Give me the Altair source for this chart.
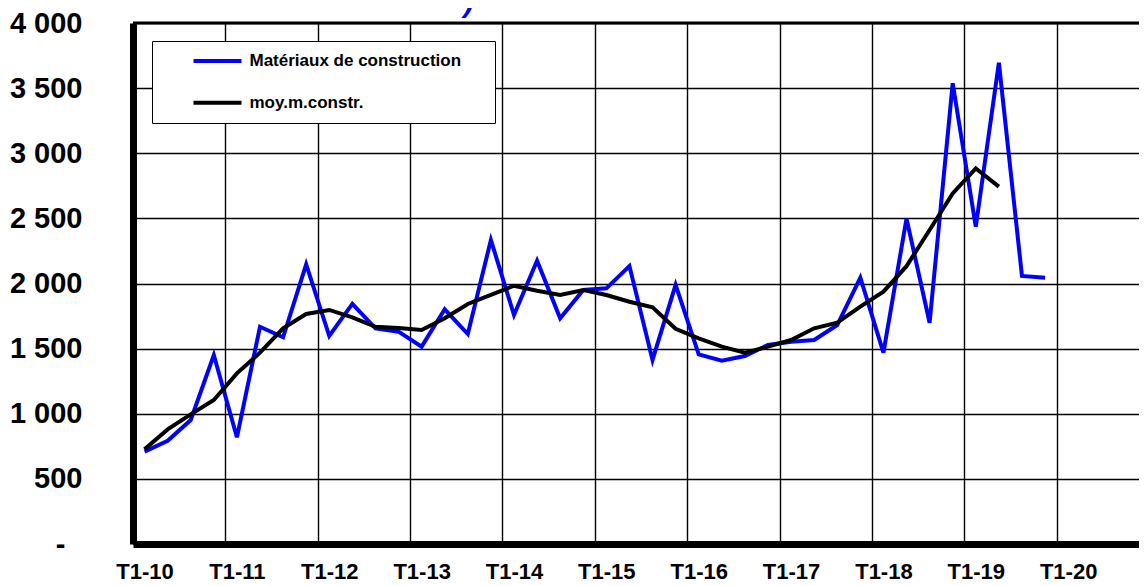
import altair as alt
import pandas as pd

# ---- data ----
series_names = ["Matériaux de construction", "moy.m.constr."]
year_labels = ["T1-10", "T1-11", "T1-12", "T1-13", "T1-14", "T1-15",
               "T1-16", "T1-17", "T1-18", "T1-19", "T1-20"]
materiaux = [709, 793, 952, 1451, 819, 1668, 1587, 2147, 1597, 1843,
             1656, 1630, 1515, 1802, 1612, 2334, 1758, 2175, 1733, 1950,
             1963, 2134, 1413, 1990, 1456, 1407, 1443, 1528, 1553, 1566,
             1681, 2045, 1469, 2498, 1699, 3537, 2436, 3695, 2058, 2045]
moyenne = [727, 880, 995, 1106, 1310, 1469, 1656, 1766, 1797, 1740,
           1668, 1658, 1643, 1733, 1843, 1912, 1983, 1945, 1912, 1950,
           1912, 1860, 1817, 1652, 1579, 1515, 1469, 1515, 1566, 1656,
           1699, 1822, 1937, 2133, 2411, 2692, 2884, 2744]
y_ticks = [0, 500, 1000, 1500, 2000, 2500, 3000, 3500, 4000]
y_top = [4000]

rows = []
for i, v in enumerate(materiaux):
    rows.append({"q": i, "value": v, "series": series_names[0]})
for i, v in enumerate(moyenne):
    rows.append({"q": i, "value": v, "series": series_names[1]})
df = pd.DataFrame(rows)

FONT = "Liberation Sans"
band = 23.09          # pixels per quarter
W, H = 1006, 521
x_max = -0.5 + W / band   # visible part of the quarter axis (cut at right edge)

year_bounds = [4 * k - 0.5 for k in range(len(year_labels))]
label_array = "[" + ",".join("'%s'" % s for s in year_labels) + "]"

x_scale = alt.Scale(domain=[-0.5, x_max], nice=False, zero=False)
y_scale = alt.Scale(domain=[0, 4000], nice=False)

x = alt.X(
    "q:Q",
    scale=x_scale,
    axis=alt.Axis(
        values=year_bounds,
        labelExpr=label_array + "[round((datum.value + 0.5) / 4)]",
        labelOffset=band / 2,
        labelFlush=False,
        labelOverlap=False,
        labelBound=False,
        labelBaseline="alphabetic",
        labelPadding=34,
        labelFont=FONT,
        labelFontSize=22,
        labelFontWeight="bold",
        labelColor="black",
        ticks=False,
        grid=True,
        gridColor="black",
        gridWidth=1.4,
        gridOpacity=1,
        domainColor="black",
        domainWidth=7,
        title=None,
    ),
)

y = alt.Y(
    "value:Q",
    scale=y_scale,
    axis=alt.Axis(
        values=y_ticks,
        labelExpr="datum.value == 0 ? '-' : replace(format(datum.value, ','), ',', ' ')",
        labelFont=FONT,
        labelFontSize=29,
        labelFontWeight="bold",
        labelColor="black",
        labelPadding={"condition": {"test": "datum.value == 0", "value": 68}, "value": 51},
        ticks=False,
        grid=True,
        gridColor="black",
        gridWidth=1.4,
        gridOpacity=1,
        domainColor="black",
        domainWidth=7,
        title=None,
    ),
)

lines = alt.Chart(df).mark_line(strokeWidth=4).encode(
    x=x,
    y=y,
    color=alt.Color(
        "series:N",
        scale=alt.Scale(domain=series_names, range=["#0000FF", "#000000"]),
        legend=alt.Legend(
            title=" ",
            titleOrient="right",
            titlePadding=22,
            orient="none",
            legendX=19,
            legendY=18,
            direction="vertical",
            fillColor="white",
            strokeColor="black",
            padding=11.5,
            rowPadding=23.7,
            clipHeight=17,
            symbolType="stroke",
            symbolSize=2304,
            symbolStrokeWidth=4,
            symbolOffset=28,
            labelOffset=6,
            labelFont=FONT,
            labelFontSize=17,
            labelFontWeight="bold",
            labelColor="black",
            labelLimit=500,
        ),
    ),
    order="q:Q",
)

top_border = alt.Chart(pd.DataFrame({"value": y_top})).mark_rule(
    color="black", strokeWidth=3
).encode(y=alt.Y("value:Q", scale=y_scale))

title_tail = alt.Chart(alt.Data(values=[{}])).mark_text(
    text=")", font=FONT, fontSize=48, color="#0000FF",
    baseline="bottom", align="center",
).encode(x=alt.value(336), y=alt.value(-5))

chart = (
    alt.layer(top_border, lines, title_tail)
    .properties(
        width=W,
        height=H,
        autosize=alt.AutoSizeParams(type="none"),
        padding={"left": 125, "top": 15, "right": 0, "bottom": 38},
        background="white",
    )
    .configure_view(stroke=None)
)

chart.save("out.html", embed_options={"renderer": "svg", "actions": False})
